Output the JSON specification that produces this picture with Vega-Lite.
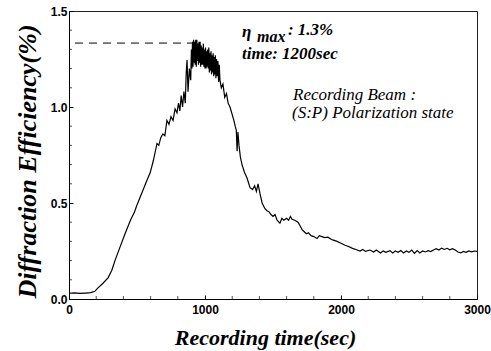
{
  "$schema": "https://vega.github.io/schema/vega-lite/v6.json",
  "width": 408,
  "height": 288,
  "autosize": "none",
  "padding": {"left": 69, "top": 11, "right": 14, "bottom": 52},
  "background": "white",
  "config": {
    "view": {"stroke": "#222", "strokeWidth": 1},
    "axis": {
      "grid": false,
      "domainColor": "#000",
      "tickColor": "#000",
      "labelFont": "Liberation Sans",
      "labelFontWeight": "bold",
      "labelFontSize": 12,
      "labelColor": "#000",
      "titleFont": "Liberation Serif",
      "titleFontStyle": "italic",
      "titleFontWeight": "bold",
      "titleColor": "#000"
    }
  },
  "datasets": {
    "curve": [
      {"t": 0, "eff": 0.03}, {"t": 40, "eff": 0.032}, {"t": 80, "eff": 0.029}, {"t": 120, "eff": 0.031},
      {"t": 160, "eff": 0.033}, {"t": 190, "eff": 0.04}, {"t": 213, "eff": 0.058}, {"t": 250, "eff": 0.082},
      {"t": 287, "eff": 0.11}, {"t": 315, "eff": 0.15}, {"t": 338, "eff": 0.2}, {"t": 375, "eff": 0.27},
      {"t": 412, "eff": 0.34}, {"t": 455, "eff": 0.415}, {"t": 480, "eff": 0.45}, {"t": 490, "eff": 0.47},
      {"t": 500, "eff": 0.49}, {"t": 540, "eff": 0.56}, {"t": 574, "eff": 0.62}, {"t": 596, "eff": 0.656},
      {"t": 620, "eff": 0.72}, {"t": 647, "eff": 0.81}, {"t": 660, "eff": 0.8}, {"t": 675, "eff": 0.84},
      {"t": 690, "eff": 0.86}, {"t": 705, "eff": 0.85}, {"t": 720, "eff": 0.93}, {"t": 735, "eff": 0.91},
      {"t": 750, "eff": 0.95}, {"t": 765, "eff": 0.93}, {"t": 780, "eff": 0.99}, {"t": 794, "eff": 0.97},
      {"t": 805, "eff": 1.02}, {"t": 815, "eff": 0.98}, {"t": 825, "eff": 1.06}, {"t": 835, "eff": 1.0},
      {"t": 845, "eff": 1.08}, {"t": 855, "eff": 1.02}, {"t": 862, "eff": 1.18}, {"t": 868, "eff": 1.245},
      {"t": 875, "eff": 1.08}, {"t": 885, "eff": 1.2}, {"t": 895, "eff": 1.14}, {"t": 900, "eff": 1.3},
      {"t": 904, "eff": 1.2}, {"t": 908, "eff": 1.34}, {"t": 912, "eff": 1.21}, {"t": 916, "eff": 1.35},
      {"t": 920, "eff": 1.23}, {"t": 924, "eff": 1.34}, {"t": 928, "eff": 1.22}, {"t": 932, "eff": 1.35},
      {"t": 936, "eff": 1.21}, {"t": 940, "eff": 1.35}, {"t": 944, "eff": 1.24}, {"t": 948, "eff": 1.33},
      {"t": 952, "eff": 1.22}, {"t": 956, "eff": 1.34}, {"t": 960, "eff": 1.23}, {"t": 964, "eff": 1.34},
      {"t": 968, "eff": 1.21}, {"t": 972, "eff": 1.32}, {"t": 976, "eff": 1.22}, {"t": 980, "eff": 1.31},
      {"t": 984, "eff": 1.22}, {"t": 988, "eff": 1.33}, {"t": 992, "eff": 1.21}, {"t": 996, "eff": 1.3},
      {"t": 1000, "eff": 1.2}, {"t": 1004, "eff": 1.31}, {"t": 1008, "eff": 1.2}, {"t": 1012, "eff": 1.29},
      {"t": 1016, "eff": 1.21}, {"t": 1020, "eff": 1.3}, {"t": 1024, "eff": 1.2}, {"t": 1028, "eff": 1.31},
      {"t": 1032, "eff": 1.18}, {"t": 1036, "eff": 1.28}, {"t": 1040, "eff": 1.19}, {"t": 1044, "eff": 1.29},
      {"t": 1048, "eff": 1.17}, {"t": 1052, "eff": 1.27}, {"t": 1056, "eff": 1.18}, {"t": 1060, "eff": 1.28},
      {"t": 1064, "eff": 1.16}, {"t": 1068, "eff": 1.26}, {"t": 1072, "eff": 1.17}, {"t": 1076, "eff": 1.27},
      {"t": 1080, "eff": 1.15}, {"t": 1085, "eff": 1.25}, {"t": 1090, "eff": 1.16}, {"t": 1095, "eff": 1.24},
      {"t": 1100, "eff": 1.13}, {"t": 1105, "eff": 1.22}, {"t": 1110, "eff": 1.14}, {"t": 1120, "eff": 1.1},
      {"t": 1132, "eff": 1.12}, {"t": 1145, "eff": 1.05}, {"t": 1158, "eff": 1.07}, {"t": 1170, "eff": 1.02},
      {"t": 1184, "eff": 1.0}, {"t": 1200, "eff": 0.96}, {"t": 1212, "eff": 0.93}, {"t": 1222, "eff": 0.9},
      {"t": 1230, "eff": 0.88}, {"t": 1236, "eff": 0.77}, {"t": 1242, "eff": 0.87}, {"t": 1250, "eff": 0.8},
      {"t": 1260, "eff": 0.74}, {"t": 1272, "eff": 0.7}, {"t": 1290, "eff": 0.66}, {"t": 1309, "eff": 0.63},
      {"t": 1331, "eff": 0.58}, {"t": 1350, "eff": 0.57}, {"t": 1365, "eff": 0.59}, {"t": 1378, "eff": 0.56},
      {"t": 1390, "eff": 0.6}, {"t": 1404, "eff": 0.55}, {"t": 1420, "eff": 0.5}, {"t": 1441, "eff": 0.47},
      {"t": 1456, "eff": 0.46}, {"t": 1470, "eff": 0.455}, {"t": 1485, "eff": 0.44}, {"t": 1500, "eff": 0.43},
      {"t": 1515, "eff": 0.44}, {"t": 1530, "eff": 0.41}, {"t": 1551, "eff": 0.395}, {"t": 1565, "eff": 0.42},
      {"t": 1580, "eff": 0.41}, {"t": 1600, "eff": 0.42}, {"t": 1615, "eff": 0.41}, {"t": 1628, "eff": 0.43},
      {"t": 1640, "eff": 0.415}, {"t": 1660, "eff": 0.41}, {"t": 1684, "eff": 0.4}, {"t": 1700, "eff": 0.38},
      {"t": 1715, "eff": 0.36}, {"t": 1730, "eff": 0.35}, {"t": 1745, "eff": 0.34}, {"t": 1760, "eff": 0.345},
      {"t": 1780, "eff": 0.33}, {"t": 1800, "eff": 0.325}, {"t": 1824, "eff": 0.315}, {"t": 1840, "eff": 0.33},
      {"t": 1860, "eff": 0.325}, {"t": 1880, "eff": 0.32}, {"t": 1904, "eff": 0.322}, {"t": 1930, "eff": 0.31},
      {"t": 1950, "eff": 0.305}, {"t": 1971, "eff": 0.3}, {"t": 2000, "eff": 0.29}, {"t": 2030, "eff": 0.28},
      {"t": 2050, "eff": 0.275}, {"t": 2066, "eff": 0.27}, {"t": 2090, "eff": 0.262}, {"t": 2110, "eff": 0.258},
      {"t": 2140, "eff": 0.25}, {"t": 2160, "eff": 0.258}, {"t": 2180, "eff": 0.248}, {"t": 2213, "eff": 0.255},
      {"t": 2240, "eff": 0.245}, {"t": 2260, "eff": 0.255}, {"t": 2290, "eff": 0.24}, {"t": 2310, "eff": 0.25},
      {"t": 2330, "eff": 0.243}, {"t": 2360, "eff": 0.252}, {"t": 2380, "eff": 0.24}, {"t": 2400, "eff": 0.25},
      {"t": 2420, "eff": 0.243}, {"t": 2440, "eff": 0.252}, {"t": 2460, "eff": 0.24}, {"t": 2480, "eff": 0.25},
      {"t": 2500, "eff": 0.243}, {"t": 2520, "eff": 0.255}, {"t": 2540, "eff": 0.238}, {"t": 2560, "eff": 0.252},
      {"t": 2580, "eff": 0.24}, {"t": 2600, "eff": 0.25}, {"t": 2620, "eff": 0.245}, {"t": 2640, "eff": 0.252},
      {"t": 2660, "eff": 0.247}, {"t": 2680, "eff": 0.255}, {"t": 2700, "eff": 0.262}, {"t": 2720, "eff": 0.255},
      {"t": 2740, "eff": 0.265}, {"t": 2760, "eff": 0.258}, {"t": 2780, "eff": 0.264}, {"t": 2800, "eff": 0.256},
      {"t": 2820, "eff": 0.262}, {"t": 2840, "eff": 0.255}, {"t": 2860, "eff": 0.245}, {"t": 2880, "eff": 0.24},
      {"t": 2900, "eff": 0.248}, {"t": 2920, "eff": 0.243}, {"t": 2940, "eff": 0.25}, {"t": 2960, "eff": 0.246},
      {"t": 2980, "eff": 0.25}, {"t": 3000, "eff": 0.248}
    ],
    "maxline": [{"t": 44, "eff": 1.333}, {"t": 910, "eff": 1.333}],
    "xminor": [
      {"t": 200}, {"t": 400}, {"t": 600}, {"t": 800}, {"t": 1200}, {"t": 1400}, {"t": 1600},
      {"t": 1800}, {"t": 2200}, {"t": 2400}, {"t": 2600}, {"t": 2800}
    ],
    "yminor": [
      {"eff": 0.1}, {"eff": 0.2}, {"eff": 0.3}, {"eff": 0.4}, {"eff": 0.6}, {"eff": 0.7},
      {"eff": 0.8}, {"eff": 0.9}, {"eff": 1.1}, {"eff": 1.2}, {"eff": 1.3}, {"eff": 1.4}
    ],
    "eta": [{"t": 1272, "eff": 1.365, "label": "η"}],
    "sub": [{"t": 1382, "eff": 1.339, "label": "max"}],
    "boldnotes": [
      {"t": 1610, "eff": 1.375, "label": ": 1.3%"},
      {"t": 1272, "eff": 1.25, "label": "time: 1200sec"}
    ],
    "plainnotes": [
      {"t": 1647, "eff": 1.036, "label": "Recording Beam :"},
      {"t": 1640, "eff": 0.943, "label": "(S:P) Polarization state"}
    ]
  },
  "layer": [
    {
      "data": {"name": "curve"},
      "mark": {"type": "line", "color": "#000", "strokeWidth": 1.2, "clip": true},
      "encoding": {
        "x": {
          "field": "t", "type": "quantitative",
          "scale": {"domain": [0, 3000], "nice": false},
          "axis": {
            "title": "Recording time(sec)",
            "titleFontSize": 22,
            "titleX": 196,
            "titleY": 45,
            "titleBaseline": "alphabetic",
            "values": [0, 1000, 2000, 3000],
            "format": "d",
            "labelOverlap": false,
            "tickSize": -4,
            "labelPadding": 9,
            "labelFlush": false
          }
        },
        "y": {
          "field": "eff", "type": "quantitative",
          "scale": {"domain": [0, 1.5], "nice": false},
          "axis": {
            "title": "Diffraction Efficiency(%)",
            "titleFontSize": 26,
            "titleX": -34,
            "titleY": 150,
            "titleBaseline": "alphabetic",
            "values": [0, 0.5, 1.0, 1.5],
            "format": ".1f",
            "labelOverlap": false,
            "tickSize": -4,
            "labelPadding": 6,
            "labelFlush": false
          }
        }
      }
    },
    {
      "data": {"name": "xminor"},
      "mark": {"type": "tick", "color": "#000", "thickness": 1, "size": 6, "clip": true},
      "encoding": {"x": {"field": "t", "type": "quantitative"}, "y": {"datum": 0}}
    },
    {
      "data": {"name": "yminor"},
      "mark": {"type": "tick", "color": "#000", "thickness": 1, "size": 6, "clip": true, "orient": "horizontal"},
      "encoding": {"y": {"field": "eff", "type": "quantitative"}, "x": {"datum": 0}}
    },
    {
      "data": {"name": "maxline"},
      "mark": {"type": "line", "color": "#000", "strokeWidth": 1, "strokeDash": [8, 6]},
      "encoding": {"x": {"field": "t", "type": "quantitative"}, "y": {"field": "eff", "type": "quantitative"}}
    },
    {
      "data": {"name": "eta"},
      "mark": {"type": "text", "align": "left", "baseline": "alphabetic", "font": "Liberation Serif", "fontStyle": "italic", "fontWeight": "bold", "fontSize": 17, "color": "#000"},
      "encoding": {"x": {"field": "t", "type": "quantitative"}, "y": {"field": "eff", "type": "quantitative"}, "text": {"field": "label"}}
    },
    {
      "data": {"name": "sub"},
      "mark": {"type": "text", "align": "left", "baseline": "alphabetic", "font": "Liberation Serif", "fontStyle": "italic", "fontWeight": "bold", "fontSize": 16, "color": "#000"},
      "encoding": {"x": {"field": "t", "type": "quantitative"}, "y": {"field": "eff", "type": "quantitative"}, "text": {"field": "label"}}
    },
    {
      "data": {"name": "boldnotes"},
      "mark": {"type": "text", "align": "left", "baseline": "alphabetic", "font": "Liberation Serif", "fontStyle": "italic", "fontWeight": "bold", "fontSize": 17, "color": "#000"},
      "encoding": {"x": {"field": "t", "type": "quantitative"}, "y": {"field": "eff", "type": "quantitative"}, "text": {"field": "label"}}
    },
    {
      "data": {"name": "plainnotes"},
      "mark": {"type": "text", "align": "left", "baseline": "alphabetic", "font": "Liberation Serif", "fontStyle": "italic", "fontWeight": "normal", "fontSize": 17, "color": "#000"},
      "encoding": {"x": {"field": "t", "type": "quantitative"}, "y": {"field": "eff", "type": "quantitative"}, "text": {"field": "label"}}
    }
  ]
}
